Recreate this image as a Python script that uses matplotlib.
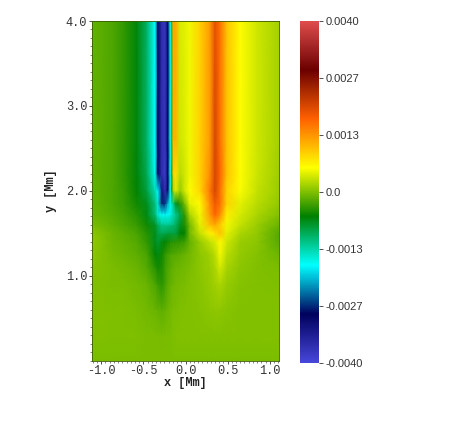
import matplotlib
matplotlib.use("Agg")
import numpy as np
import matplotlib.pyplot as plt
from matplotlib.colors import LinearSegmentedColormap
from matplotlib.ticker import MultipleLocator, FormatStrFormatter

x_vals = [-1.11, -0.86, -0.72, -0.58, -0.46, -0.36, -0.33, -0.28, -0.24, -0.21, -0.18, -0.16, -0.145,
          -0.115, -0.065, -0.01, 0.05, 0.17, 0.29, 0.35, 0.41, 0.49, 0.65, 0.85, 1.11]
y_vals = [0.0, 0.3, 0.6, 0.9, 1.1, 1.25, 1.4, 1.5, 1.6, 1.72, 1.85, 2.0, 2.2, 2.6, 4.0]

row_000 = [-.02, -.02, -.02, -.02, -.02, -.02, -.02, -.02, -.02, -.02, -.02, -.02, -.02, -.02, -.02, -.02, -.02, -.02, -.02, -.02, -.02, -.02, -.02, -.02, -.02]
row_030 = [0, -.01, -.01, -.01, -.02, -.03, -.03, -.04, -.03, -.02, -.02, -.01, -.01, 0, 0, 0, .01, .01, .01, .01, .01, .01, 0, 0, 0]
row_060 = [0, -.01, -.01, -.02, -.05, -.1, -.12, -.15, -.12, -.08, -.05, -.04, -.03, -.02, -.01, 0, 0, .02, .05, .07, .07, .04, .01, 0, 0]
row_090 = [0, -.02, -.03, -.06, -.1, -.22, -.3, -.38, -.28, -.18, -.12, -.1, -.08, -.06, -.04, -.02, 0, .04, .1, .15, .2, .1, .03, 0, -.01]
row_110 = [.03, -.03, -.06, -.1, -.2, -.4, -.5, -.45, -.3, -.22, -.18, -.15, -.12, -.1, -.08, -.05, -.02, .05, .12, .2, .38, .18, .05, .01, -.03]
row_125 = [.05, -.05, -.1, -.15, -.25, -.55, -.65, -.5, -.35, -.28, -.22, -.2, -.2, -.18, -.15, -.1, -.05, .05, .15, .25, .5, .25, .08, .02, -.08]
row_140 = [.08, -.08, -.14, -.2, -.35, -.7, -.8, -.65, -.55, -.5, -.45, -.42, -.4, -.38, -.35, -.3, -.12, .1, .3, .4, .62, .35, .12, .05, -.18]
row_150 = [.05, -.1, -.17, -.25, -.4, -.7, -.85, -.95, -.9, -.85, -.85, -.85, -.85, -.85, -.6, -.55, -.05, .3, .65, .8, 1.0, .45, .2, .08, -.2]
row_160 = [-.02, -.15, -.23, -.32, -.5, -.75, -.95, -1.2, -1.2, -1.2, -1.15, -1.12, -1.1, -1.0, -.75, -.45, -.05, .45, 1.05, 1.2, .95, .5, .3, .12, -.1]
row_172 = [-.08, -.2, -.28, -.4, -.65, -1.1, -1.5, -1.7, -1.65, -1.7, -1.6, -1.5, -1.4, -1.2, -.9, -.35, .2, .5, 1.3, 1.7, 1.4, .7, .38, .2, 0]
row_185 = [-.1, -.22, -.32, -.5, -.7, -1.15, -1.5, -2.7, -2.6, -2.1, -1.65, -1.4, -1.2, -.7, -.4, -.05, .45, .6, 1.4, 1.8, 1.6, .9, .45, .25, .08]
row_200 = [-.12, -.22, -.34, -.55, -.85, -1.4, -1.75, -3.2, -3.6, -2.9, -1.7, -.4, .2, .4, .1, .35, .55, .85, 1.55, 2.0, 1.6, .9, .55, .3, .12]
row_220 = [-.14, -.23, -.36, -.6, -.95, -1.65, -2.8, -3.6, -3.8, -2.9, -1.7, -.3, .9, .8, .25, .35, .5, .9, 1.4, 2.0, 1.7, 1.0, .58, .33, .14]
row_260 = [-.12, -.23, -.37, -.62, -1.03, -1.71, -2.9, -3.6, -3.7, -2.9, -1.7, -.2, 1.1, 1.1, .35, .42, .5, .9, 1.3, 2.0, 1.6, 1.0, .58, .35, .16]
row_400 = [-.12, -.23, -.37, -.62, -1.03, -1.71, -2.8, -3.6, -3.7, -2.9, -1.7, -.2, 1.2, 1.2, .4, .45, .5, .9, 1.3, 1.9, 1.6, 1.0, .58, .35, .16]

field = np.array([row_000, row_030, row_060, row_090, row_110, row_125, row_140, row_150,
                  row_160, row_172, row_185, row_200, row_220, row_260, row_400]) * 1e-3

cbar_ticks = [-0.004, -0.004 * 2 / 3, -0.004 / 3, 0.0, 0.004 / 3, 0.004 * 2 / 3, 0.004]
cbar_labels = ["-0.0040", "-0.0027", "-0.0013", "0.0", "0.0013", "0.0027", "0.0040"]
cmap_colors = ["#4747db", "#00005c", "#00ffff", "#008000", "#ffff00", "#ff6100", "#6b0000", "#e04c4c"]

W, H = 463, 424
cmap = LinearSegmentedColormap.from_list("rainbow_desat", cmap_colors, N=512)

fig = plt.figure(figsize=(W / 100, H / 100), dpi=100)
ax = fig.add_axes([92 / W, 1 - 360.5 / H, 187 / W, 339.5 / H])
mesh = ax.pcolormesh(x_vals, y_vals, field, cmap=cmap, vmin=-0.004, vmax=0.004, shading="gouraud")
ax.set_xlim(-1.11, 1.11)
ax.set_ylim(0, 4)

mono = "Liberation Mono"
ax.xaxis.set_major_locator(MultipleLocator(0.5))
ax.xaxis.set_minor_locator(MultipleLocator(0.05))
ax.yaxis.set_major_locator(MultipleLocator(1.0))
ax.yaxis.set_minor_locator(MultipleLocator(0.1))
ax.xaxis.set_major_formatter(FormatStrFormatter("%.1f"))
ax.yaxis.set_major_formatter(FormatStrFormatter("%.1f"))
ax.set_yticks([1, 2, 3, 4])
ax.tick_params(which="major", length=2.5, width=0.6, labelsize=8.6, pad=1, color="#333333", labelcolor="#333333")
ax.tick_params(which="minor", length=1.5, width=0.5, color="#555555")
for lab in ax.get_xticklabels() + ax.get_yticklabels():
    lab.set_family(mono)
ax.set_xlabel("x [Mm]", family=mono, fontsize=8.6, fontweight="bold", color="#222222", labelpad=0)
ax.set_ylabel("y [Mm]", family=mono, fontsize=8.6, fontweight="bold", color="#222222", labelpad=6)
for spine in ax.spines.values():
    spine.set_linewidth(0.6)
    spine.set_color("#3a5a00")

cax = fig.add_axes([300 / W, 1 - 363 / H, 19 / W, 342 / H])
cb = fig.colorbar(mesh, cax=cax)
cb.outline.set_visible(False)
cb.set_ticks(cbar_ticks)
cb.set_ticklabels(cbar_labels)
cb.ax.tick_params(length=3, width=0.6, labelsize=8, pad=1.5, color="#333333", labelcolor="#333333")
for lab in cb.ax.get_yticklabels():
    lab.set_family("Liberation Sans")

fig.savefig("out.png", dpi=100)
